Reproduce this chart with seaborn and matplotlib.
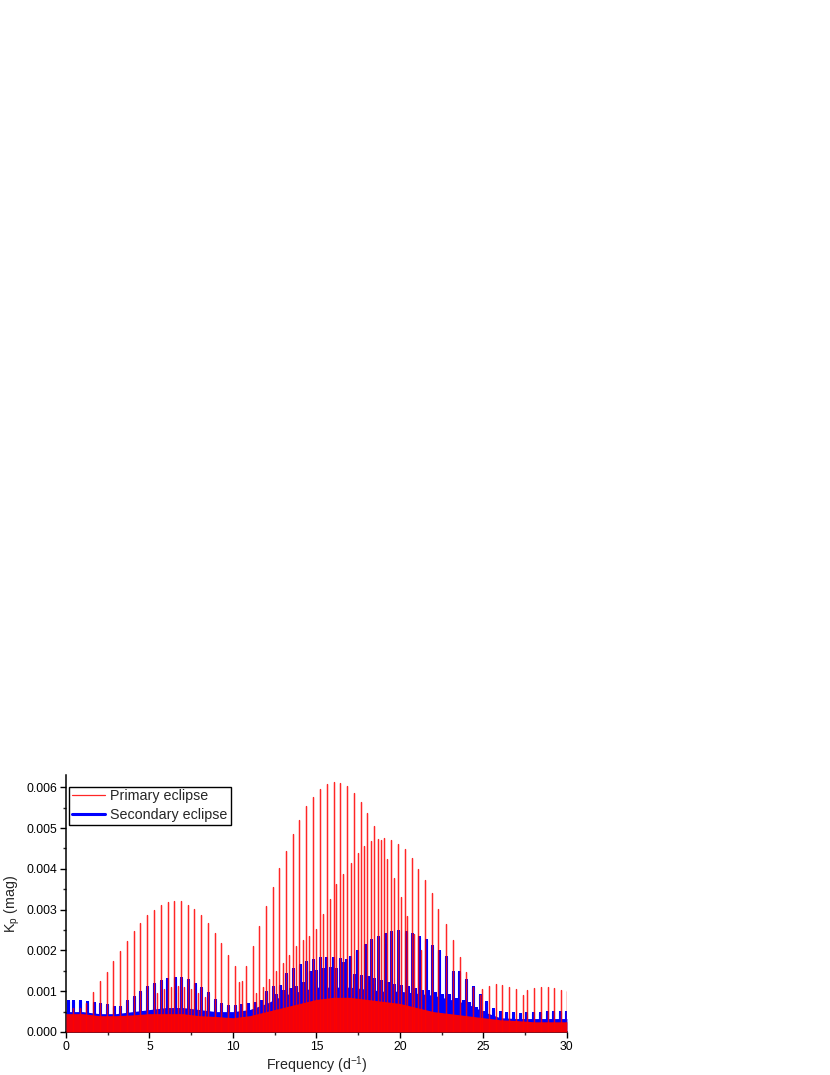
import numpy as np
import matplotlib
matplotlib.use("Agg")
import matplotlib.pyplot as plt
import seaborn as sns

# primary eclipse (red) - spike frequencies / heights
red_freq_a = [0.41, 0.81, 1.22, 1.62, 2.03, 2.43, 2.84, 3.24, 3.65, 4.05, 4.46, 4.86, 5.27,
              5.67, 6.08, 6.48, 6.89, 7.29, 7.69, 8.10, 8.50, 8.90, 9.30, 9.72, 10.12, 10.52]
red_amp_a = [0.00060, 0.00060, 0.00070, 0.00099, 0.00124, 0.00148, 0.00175, 0.00199, 0.00224,
             0.00247, 0.00268, 0.00286, 0.00300, 0.00312, 0.00318, 0.00320, 0.00320, 0.00312,
             0.00302, 0.00286, 0.00267, 0.00243, 0.00219, 0.00190, 0.00162, 0.00125]
red_freq_b = [10.38, 10.78, 11.18, 11.58, 11.98, 12.38, 12.78, 13.18, 13.58, 13.98, 14.38, 14.78,
              15.20, 15.62, 16.04, 16.44, 16.84, 17.24, 17.64, 18.04, 18.44, 18.84, 19.24, 19.64,
              20.04, 20.44, 20.84, 21.24]
red_amp_b = [0.00122, 0.00163, 0.00211, 0.00259, 0.00308, 0.00356, 0.00402, 0.00445, 0.00486,
             0.00520, 0.00553, 0.00577, 0.00595, 0.00607, 0.00613, 0.00611, 0.00602, 0.00587,
             0.00565, 0.00538, 0.00505, 0.00470, 0.00423, 0.00378, 0.00332, 0.00284, 0.00240,
             0.00200]
red_freq_c = [15.00, 15.40, 15.80, 16.20, 16.60, 17.06, 17.46, 17.86, 18.26, 18.66, 19.06, 19.46,
              19.86, 20.30, 20.70, 21.10, 21.50, 21.90, 22.30, 22.78, 23.18, 23.58, 23.98, 24.38,
              24.78]
red_amp_c = [0.00252, 0.00290, 0.00325, 0.00362, 0.00388, 0.00415, 0.00440, 0.00456, 0.00468,
             0.00474, 0.00476, 0.00472, 0.00462, 0.00448, 0.00427, 0.00400, 0.00372, 0.00340,
             0.00302, 0.00266, 0.00226, 0.00185, 0.00148, 0.00110, 0.00090]
red_freq_tail = [24.94, 25.34, 25.78, 26.14, 26.54, 26.98, 27.38, 27.64, 28.04, 28.44, 28.84,
                 29.24, 29.64, 29.98]
red_amp_tail = [0.00105, 0.00113, 0.00118, 0.00116, 0.00110, 0.00105, 0.00091, 0.00102, 0.00107,
                0.00111, 0.00110, 0.00107, 0.00103, 0.00100]
red_freq_minor = [5.47, 5.87, 6.28, 6.68, 7.09, 7.49, 7.89, 8.30, 11.38, 11.78, 12.18, 12.58,
                  12.98, 13.38, 13.78, 14.18, 14.58]
red_amp_minor = [0.00095, 0.00105, 0.00110, 0.00112, 0.00110, 0.00105, 0.00095, 0.00085, 0.00095,
                 0.00110, 0.00130, 0.00150, 0.00170, 0.00190, 0.00210, 0.00225, 0.00235]

# secondary eclipse (blue)
blue_freq = [0.10, 0.45, 0.85, 1.25, 1.65, 2.05, 2.45, 2.85, 3.25, 3.65, 4.05, 4.45, 4.87, 5.27,
             5.67, 6.07, 6.50, 6.90, 7.30, 7.70, 8.10, 8.50, 8.90, 9.30, 9.70, 10.10, 10.50,
             10.90, 11.30, 11.70, 12.00, 12.40, 12.80, 13.20, 13.60, 14.00, 14.40, 14.80, 15.20,
             15.60, 16.00, 16.40, 16.80, 17.04, 17.44, 17.88, 18.28, 18.68, 19.08, 19.48, 19.90,
             20.34, 20.74, 21.14, 21.54, 21.94, 22.34, 22.75, 23.16, 23.56, 23.98, 24.38, 24.78,
             25.18, 25.58, 25.98, 26.38, 26.78, 27.18, 27.58, 27.98, 28.38, 28.78, 29.18, 29.58,
             29.95]
blue_amp = [0.00076, 0.00076, 0.00075, 0.00073, 0.00072, 0.00069, 0.00065, 0.00062, 0.00061,
            0.00075, 0.00087, 0.00099, 0.00110, 0.00118, 0.00126, 0.00130, 0.00132, 0.00132,
            0.00128, 0.00118, 0.00107, 0.00095, 0.00079, 0.00069, 0.00064, 0.00063, 0.00066,
            0.00068, 0.00070, 0.00077, 0.00099, 0.00111, 0.00114, 0.00141, 0.00154, 0.00164,
            0.00172, 0.00177, 0.00182, 0.00182, 0.00182, 0.00180, 0.00177, 0.00185, 0.00199,
            0.00214, 0.00225, 0.00234, 0.00241, 0.00245, 0.00247, 0.00245, 0.00240, 0.00233,
            0.00225, 0.00212, 0.00198, 0.00183, 0.00148, 0.00148, 0.00128, 0.00110, 0.00091,
            0.00073, 0.00056, 0.00048, 0.00046, 0.00046, 0.00045, 0.00046, 0.00047, 0.00047,
            0.00048, 0.00048, 0.00048, 0.00048]
blue_freq_minor = [12.60, 13.00, 13.40, 13.80, 14.20, 14.60, 15.00, 15.40, 15.80, 16.20, 16.60,
                   17.24, 17.64, 18.06, 18.46, 18.86, 19.26, 19.66, 20.06, 20.50, 20.90, 21.30,
                   21.70, 22.10, 22.55, 22.95, 23.35, 23.75, 24.15, 24.55, 24.95]
blue_amp_minor = [0.00090, 0.00100, 0.00106, 0.00110, 0.00120, 0.00146, 0.00150, 0.00155,
                  0.00158, 0.00155, 0.00170, 0.00140, 0.00138, 0.00135, 0.00130, 0.00125,
                  0.00120, 0.00115, 0.00113, 0.00110, 0.00105, 0.00100, 0.00100, 0.00095,
                  0.00090, 0.00090, 0.00080, 0.00075, 0.00070, 0.00060, 0.00050]

# dense noise floor, top of the band read every 1 d^-1
band_freq = list(range(0, 31))
red_band = [0.00045, 0.00045, 0.00040, 0.00040, 0.00042, 0.00045, 0.00045, 0.00045, 0.00040,
            0.00038, 0.00035, 0.00040, 0.00050, 0.00060, 0.00070, 0.00080, 0.00085, 0.00085,
            0.00080, 0.00075, 0.00070, 0.00060, 0.00050, 0.00045, 0.00040, 0.00035, 0.00030,
            0.00028, 0.00025, 0.00025, 0.00025]
blue_band = [0.00050, 0.00050, 0.00045, 0.00045, 0.00050, 0.00055, 0.00060, 0.00060, 0.00055,
             0.00050, 0.00050, 0.00055, 0.00070, 0.00090, 0.00100, 0.00110, 0.00110, 0.00110,
             0.00105, 0.00100, 0.00100, 0.00095, 0.00090, 0.00080, 0.00070, 0.00050, 0.00035,
             0.00033, 0.00033, 0.00033, 0.00033]


def spikes(freq, amp):
    # each peak becomes a vertical stroke 0 -> amp -> 0
    f = np.repeat(np.asarray(freq, float), 3)
    a = np.asarray(amp, float)
    z = np.zeros_like(a)
    return f, np.column_stack([z, a, z]).ravel()


sns.set_style("ticks")
plt.rcParams["font.family"] = ["Liberation Sans", "DejaVu Sans"]
plt.rcParams["mathtext.default"] = "regular"

fig = plt.figure(figsize=(8.3, 10.75), dpi=100)
ax = fig.add_axes([0.0795, 0.040, 0.6035, 0.239])

RED = "#ff0000"
BLUE = "#0000ff"

ax.fill_between(band_freq, 0, blue_band, color=BLUE, lw=0, zorder=1)
bx, by = spikes(blue_freq + blue_freq_minor, blue_amp + blue_amp_minor)
sns.lineplot(x=bx, y=by, sort=False, estimator=None, color=BLUE, lw=2.2, ax=ax,
             label="Secondary eclipse", zorder=2)

ax.fill_between(band_freq, 0, red_band, color=RED, lw=0, alpha=0.95, zorder=3)
rx, ry = spikes(red_freq_a + red_freq_b + red_freq_c + red_freq_tail + red_freq_minor,
                red_amp_a + red_amp_b + red_amp_c + red_amp_tail + red_amp_minor)
sns.lineplot(x=rx, y=ry, sort=False, estimator=None, color=RED, lw=0.9, alpha=0.85, ax=ax,
             label="Primary eclipse", zorder=4)

ax.set_xlim(0, 30)
ax.set_ylim(0, 0.0063)
ax.set_xticks([0, 5, 10, 15, 20, 25, 30])
ax.set_xticks(np.arange(2.5, 30, 5), minor=True)
ax.set_yticks([0, 0.001, 0.002, 0.003, 0.004, 0.005, 0.006])
ax.set_yticks(np.arange(0.0005, 0.0063, 0.001), minor=True)
ax.set_yticklabels(["0.000", "0.001", "0.002", "0.003", "0.004", "0.005", "0.006"])
ax.tick_params(which="major", direction="out", length=4, width=1, labelsize=8.8,
               colors="black", pad=2.5)
ax.tick_params(which="minor", direction="out", length=2.5, width=1)
for s in ["top", "right"]:
    ax.spines[s].set_visible(False)
for s in ["left", "bottom"]:
    ax.spines[s].set_linewidth(1.1)
    ax.spines[s].set_color("black")

ax.set_xlabel("Frequency (d$^{-1}$)", fontsize=10.3, labelpad=1)
ax.set_ylabel("K$_p$ (mag)", fontsize=10.3, labelpad=3)

h, l = ax.get_legend_handles_labels()
leg = ax.legend(h[::-1], l[::-1], loc="upper left", bbox_to_anchor=(0.006, 0.955), fontsize=10.3,
                frameon=True, fancybox=False, framealpha=1, edgecolor="black", borderpad=0.2,
                handlelength=2.3, handletextpad=0.4, labelspacing=0.3, borderaxespad=0)
leg.get_frame().set_linewidth(1.0)

fig.savefig("out.png", dpi=100)
